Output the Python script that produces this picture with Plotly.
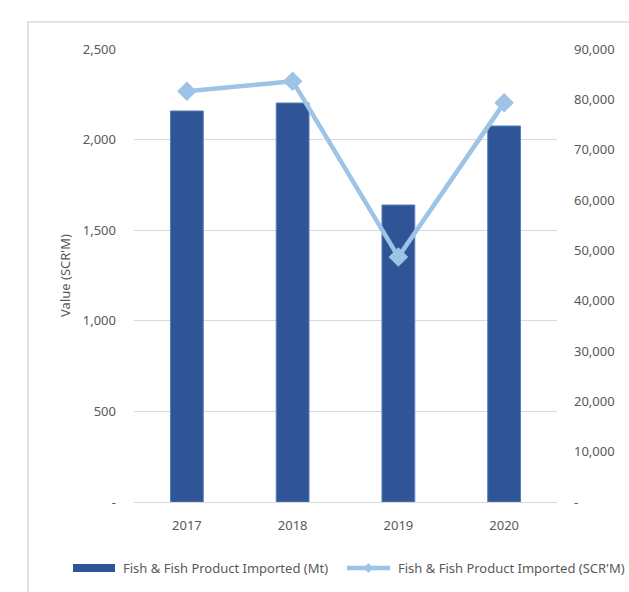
import plotly.graph_objects as go

# Annual fish & fish product imports
years = ["2017", "2018", "2019", "2020"]
imported_mt = [2158, 2202, 1639, 2075]
imported_scr = [81600, 83600, 48700, 79300]

left_ticks = [0, 500, 1000, 1500, 2000, 2500]
left_labels = ["-", "500", "1,000", "1,500", "2,000", "2,500"]
right_ticks = [0, 10000, 20000, 30000, 40000, 50000, 60000, 70000, 80000, 90000]
right_labels = ["-", "10,000", "20,000", "30,000", "40,000", "50,000",
                "60,000", "70,000", "80,000", "90,000"]

bar_name = "Fish & Fish Product Imported (Mt)"
line_name = "Fish & Fish Product Imported (SCR'M)"

BAR = "#2F5597"
LINE = "#9DC3E6"
GRID = "#D9D9D9"
TXT = "#595959"
FONT = "Noto Sans"
FS = 13

fig = go.Figure()
fig.add_trace(go.Bar(
    x=years, y=imported_mt, name=bar_name,
    marker=dict(color=BAR, line=dict(color="#5B7DBA", width=1)),
    width=0.31, yaxis="y", showlegend=False,
))
fig.add_trace(go.Scatter(
    x=years, y=imported_scr, name=line_name,
    mode="lines+markers", yaxis="y2", showlegend=False,
    line=dict(color=LINE, width=4.5),
    marker=dict(symbol="diamond", size=15, color=LINE),
))

W, H = 629, 592
ml, mr, mt, mb = 134, 72, 49, 90
pw, ph = W - ml - mr, H - mt - mb

def px_x(p):
    return (p - ml) / pw

def px_y(p):
    return 1 - (p - mt) / ph

# Legend row below the plot: wide bar swatch, line swatch with a diamond
leg_y = 568
dx, dy = 368.5, leg_y
d = 5
diamond = "M {} {} L {} {} L {} {} L {} {} Z".format(
    px_x(dx - d), px_y(dy), px_x(dx), px_y(dy - d),
    px_x(dx + d), px_y(dy), px_x(dx), px_y(dy + d))

shapes = [
    dict(type="rect", xref="paper", yref="paper",
         x0=px_x(28), x1=px_x(700), y0=px_y(700), y1=px_y(22),
         line=dict(color=GRID, width=1.5), fillcolor="rgba(0,0,0,0)", layer="below"),
    dict(type="rect", xref="paper", yref="paper",
         x0=px_x(73), x1=px_x(115), y0=px_y(leg_y + 4), y1=px_y(leg_y - 4),
         line=dict(width=0), fillcolor=BAR),
    dict(type="line", xref="paper", yref="paper",
         x0=px_x(347), x1=px_x(390), y0=px_y(leg_y), y1=px_y(leg_y),
         line=dict(color=LINE, width=4.5)),
    dict(type="path", xref="paper", yref="paper", path=diamond,
         fillcolor=LINE, line=dict(width=0)),
]
annotations = [
    dict(text=bar_name, xref="paper", yref="paper", x=px_x(121), y=px_y(leg_y),
         xanchor="left", yanchor="middle", showarrow=False,
         font=dict(family=FONT, size=FS, color=TXT)),
    dict(text=line_name, xref="paper", yref="paper", x=px_x(396), y=px_y(leg_y),
         xanchor="left", yanchor="middle", showarrow=False,
         font=dict(family=FONT, size=FS, color=TXT)),
]

fig.update_layout(
    width=W, height=H,
    margin=dict(l=ml, r=mr, t=mt, b=mb, autoexpand=False),
    paper_bgcolor="white", plot_bgcolor="white",
    font=dict(family=FONT, size=FS, color=TXT),
    showlegend=False,
    xaxis=dict(
        showgrid=False, showline=True, linecolor=GRID, linewidth=1,
        ticks="", ticklabelstandoff=11, tickfont=dict(size=FS, color=TXT),
    ),
    yaxis=dict(
        range=[0, 2500], tickvals=left_ticks, ticktext=left_labels,
        showgrid=True, gridcolor=GRID, gridwidth=1, zeroline=False,
        showline=False, ticks="", ticklabelstandoff=17,
        title=dict(text="Value (SCR'M)", standoff=9, font=dict(size=FS, color=TXT)),
    ),
    yaxis2=dict(
        range=[0, 90000], tickvals=right_ticks, ticktext=right_labels,
        overlaying="y", side="right", showgrid=False, zeroline=False,
        showline=False, ticks="", ticklabelstandoff=16,
    ),
    shapes=shapes,
    annotations=annotations,
)

fig.write_html("out.html")
